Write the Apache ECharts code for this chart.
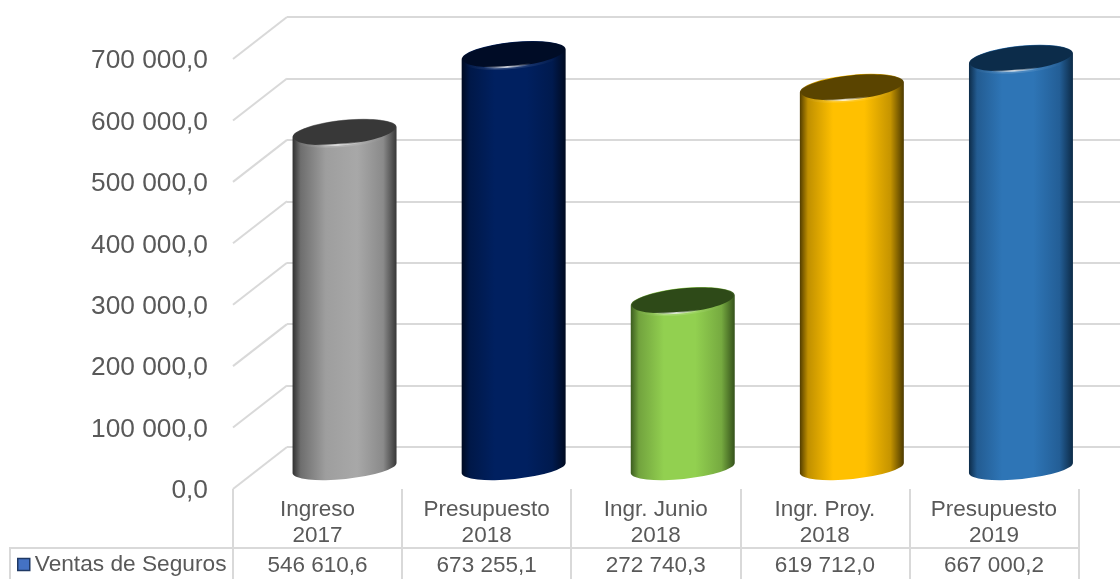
<!DOCTYPE html>
<html>
<head>
<meta charset="utf-8">
<style>html,body{margin:0;padding:0;background:#fff}#c{width:1120px;height:579px}</style>
<script src="https://cdn.jsdelivr.net/npm/echarts@6/dist/echarts.min.js"></script>
</head>
<body>
<div id="c"></div>
<script>
const categories = ['Ingreso\n2017', 'Presupuesto\n2018', 'Ingr. Junio\n2018', 'Ingr. Proy.\n2018', 'Presupuesto\n2019'];
const seriesName = 'Ventas de Seguros';
const values = [546610.6, 673255.1, 272740.3, 619712.0, 667000.2];
const yTicks = [0, 100000, 200000, 300000, 400000, 500000, 600000, 700000];

const topColors = ['#383838', '#000c26', '#2e4a18', '#5a4400', '#0c2c4a'];
const bodyStops = [
  ['#2e2e2e', '#6e6e6e', '#9e9e9e', '#a8a8a8', '#8a8a8a', '#363636'],
  ['#000a20', '#001848', '#002060', '#002060', '#001a4e', '#000a20'],
  ['#3a5a1e', '#72a33e', '#92d050', '#92d050', '#76aa40', '#33501a'],
  ['#4f3b00', '#c09000', '#ffc000', '#ffc000', '#c59400', '#4a3800'],
  ['#0c2a46', '#235c92', '#2e75b6', '#2e75b6', '#235e96', '#0c2a46']
];
const gridColor = '#d9d9d9';
const textColor = '#595959';
const depthX = 54, depthY = -42, tilt = 5.8 * Math.PI / 180;

const fmt = v => {
  const [i, d] = v.toFixed(1).split('.');
  return i.replace(/\B(?=(\d{3})+$)/g, ' ') + ',' + d;
};

function renderBar(params, api) {
  const i = params.dataIndex;
  const base = api.coord([api.value(0), 0]);
  const top = api.coord([api.value(0), api.value(1)]);
  const a = api.size([1, 0])[0] * 0.309, b = 11;
  const cx = base[0], dx = a * Math.cos(tilt), dy = a * Math.sin(tilt);
  const deg = tilt * 180 / Math.PI;
  const s = bodyStops[i];
  const body = `M${cx - dx} ${top[1] + dy} L${cx - dx} ${base[1] + dy} A${a} ${b} ${-deg} 0 0 ${cx + dx} ${base[1] - dy} L${cx + dx} ${top[1] - dy} A${a} ${b + 1.5} ${-deg} 0 0 ${cx - dx} ${top[1] + dy} Z`;
  const r = a - 1.2, rx = r * Math.cos(tilt), ry = r * Math.sin(tilt), rb = b + 1;
  const shine = `M${cx - rx} ${top[1] + ry} A${r} ${rb} ${-deg} 0 0 ${cx + rx} ${top[1] - ry}`;
  return {
    type: 'group',
    children: [
      { type: 'path', shape: { pathData: body }, style: { fill: {
          type: 'linear', x: 0, y: 0, x2: 1, y2: 0,
          colorStops: [
            { offset: 0, color: s[0] }, { offset: 0.08, color: s[1] }, { offset: 0.32, color: s[2] },
            { offset: 0.62, color: s[3] }, { offset: 0.87, color: s[4] }, { offset: 1, color: s[5] }
          ] } } },
      { type: 'path', shape: { pathData: shine }, style: { fill: 'none', lineWidth: 5, stroke: {
          type: 'linear', x: 0, y: 0, x2: 1, y2: 0,
          colorStops: [
            { offset: 0.05, color: 'rgba(255,255,255,0)' }, { offset: 0.42, color: 'rgba(255,255,255,0.16)' },
            { offset: 0.9, color: 'rgba(255,255,255,0)' }
          ] } } },
      { type: 'ellipse', x: cx, y: top[1], rotation: tilt,
        shape: { cx: 0, cy: 0, rx: r, ry: rb }, style: { fill: topColors[i] } },
      { type: 'path', shape: { pathData: shine }, style: { fill: 'none', lineWidth: 1.8, stroke: {
          type: 'linear', x: 0, y: 0, x2: 1, y2: 0,
          colorStops: [
            { offset: 0.22, color: 'rgba(255,255,255,0)' }, { offset: 0.44, color: 'rgba(255,255,255,0.8)' },
            { offset: 0.66, color: 'rgba(255,255,255,0)' }
          ] } } }
    ]
  };
}

function renderDiagonal(params, api) {
  const p = api.coord([0, api.value(1)]);
  const x = params.coordSys.x;
  return { type: 'line', shape: { x1: x, y1: p[1], x2: x + depthX, y2: p[1] + depthY },
    style: { stroke: gridColor, lineWidth: 2 } };
}

const chart = echarts.init(document.getElementById('c'), null, { renderer: 'canvas' });
chart.setOption({
  animation: false,
  backgroundColor: '#fff',
  textStyle: { fontFamily: '"Liberation Sans", Arial, sans-serif' },
  legend: {
    left: 17, top: 553, padding: [0, 0, 0, 0], itemWidth: 12, itemHeight: 12, itemGap: 5, selectedMode: false,
    textStyle: { fontSize: 22.7, color: textColor },
    data: [{ name: seriesName, icon: 'rect',
      itemStyle: { color: '#4472c4', borderColor: '#1f3864', borderWidth: 1.5 } }]
  },
  grid: [
    { left: 233, top: 59, width: 845.5, height: 430 },
    { left: 287, top: 17, width: 833, height: 430 },
    { left: 260, top: 38, width: 845.5, height: 430 }
  ],
  xAxis: [
    { type: 'category', gridIndex: 0, position: 'bottom', data: categories,
      axisLine: { show: false },
      axisTick: { show: true, length: 90, lineStyle: { color: gridColor, width: 2 } },
      axisLabel: { color: textColor, fontSize: 22.5, lineHeight: 26, margin: 8, interval: 0 } },
    { type: 'category', gridIndex: 0, position: 'bottom', offset: 0, data: values.map(fmt),
      axisLine: { show: false }, axisTick: { show: false },
      axisLabel: { color: textColor, fontSize: 22.5, margin: 65, interval: 0 } },
    { type: 'category', gridIndex: 1, show: false, data: categories },
    { type: 'category', gridIndex: 2, show: false, data: categories }
  ],
  yAxis: [
    { type: 'value', gridIndex: 0, min: 0, max: 700000, interval: 100000,
      axisLine: { show: false }, axisTick: { show: false }, splitLine: { show: false },
      axisLabel: { margin: 25, formatter: v => '{t|' + fmt(v) + '}',
        rich: { t: { color: textColor, fontSize: 26.3, padding: [4, 0, 0, 0] } } } },
    { type: 'value', gridIndex: 1, min: 0, max: 700000, interval: 100000,
      axisLine: { show: false }, axisTick: { show: false }, axisLabel: { show: false },
      splitLine: { show: true, lineStyle: { color: gridColor, width: 2 } } },
    { type: 'value', gridIndex: 2, min: 0, max: 700000, interval: 100000, show: false, splitLine: { show: false } }
  ],
  series: [
    { type: 'custom', xAxisIndex: 0, yAxisIndex: 0, silent: true, z: 1, clip: false,
      renderItem: renderDiagonal, data: yTicks.map(t => [0, t]), encode: { x: 0, y: 1 } },
    { type: 'custom', name: seriesName, xAxisIndex: 3, yAxisIndex: 2, z: 3, clip: false,
      renderItem: renderBar, data: values.map((v, i) => [i, v]), encode: { x: 0, y: 1 } }
  ],
  graphic: [
    { type: 'polyline', z: 2, silent: true, shape: { points: [[10, 579], [10, 548], [1079, 548]] },
      style: { stroke: gridColor, lineWidth: 2, fill: 'none' } }
  ]
});
</script>
</body>
</html>
